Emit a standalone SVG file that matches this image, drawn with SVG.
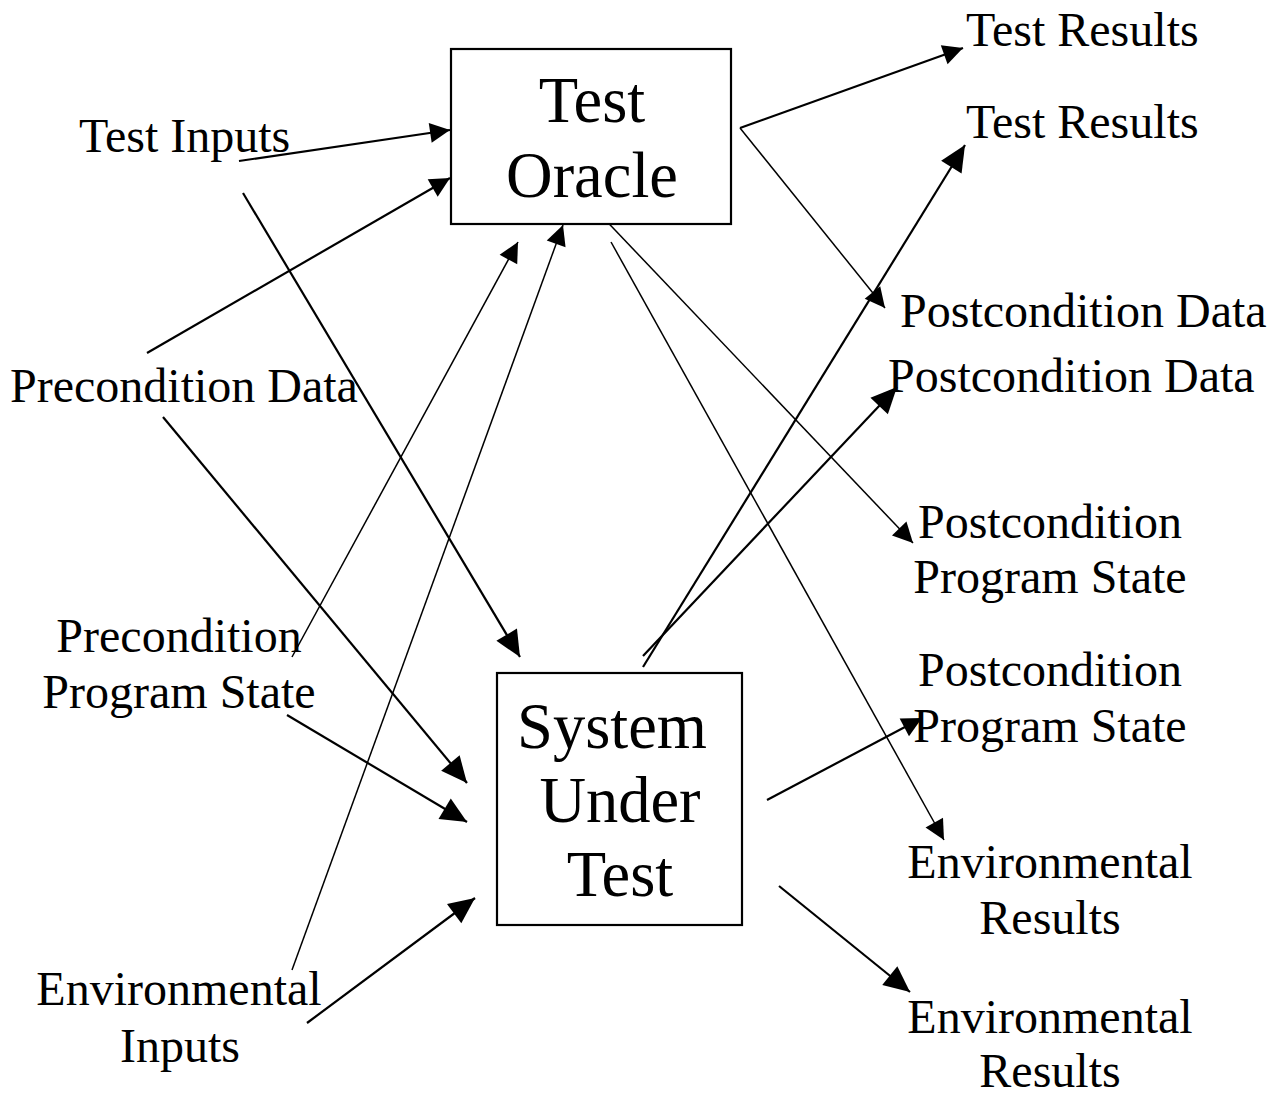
<svg xmlns="http://www.w3.org/2000/svg" width="1282" height="1095" viewBox="0 0 1282 1095">
<style>
.lbl{font-family:"Liberation Serif","Times New Roman",serif;font-size:48px;fill:#000}
.big{font-family:"Liberation Serif","Times New Roman",serif;font-size:64.5px;fill:#000;text-anchor:middle}
.mid{text-anchor:middle}
.box{fill:#fff;stroke:#000;stroke-width:2.2}
.c{stroke:#000;fill:none;stroke-width:2.2}
.t{stroke-width:1.5}
.s{marker-end:url(#ah)}
.l{marker-end:url(#ahl)}
</style>
<defs>
<marker id="ah" markerUnits="userSpaceOnUse" markerWidth="22" markerHeight="20" refX="20" refY="10" orient="auto" overflow="visible">
<path d="M0,0 L20,10 L0,20 z" fill="#000"/>
</marker>
<marker id="ahl" markerUnits="userSpaceOnUse" markerWidth="28" markerHeight="26" refX="26" refY="12" orient="auto" overflow="visible">
<path d="M0,0 L26,12 L0,24 z" fill="#000"/>
</marker>
</defs>
<rect width="1282" height="1095" fill="#fff"/>
<g id="connectors">
<line class="c s" x1="239" y1="161" x2="450" y2="130"/>
<line class="c s" x1="147" y1="353" x2="450" y2="178"/>
<line class="c l" x1="243" y1="193" x2="520" y2="657"/>
<line class="c l" x1="163" y1="417" x2="467" y2="783"/>
<line class="c t s" x1="292" y1="657" x2="518" y2="242"/>
<line class="c t s" x1="292" y1="970" x2="563" y2="225"/>
<line class="c l" x1="287" y1="715" x2="467" y2="822"/>
<line class="c l" x1="307" y1="1023" x2="475" y2="898"/>
<line class="c s" x1="740" y1="128" x2="963" y2="48"/>
<line class="c t s" x1="740" y1="128" x2="885" y2="308"/>
<line class="c t s" x1="595" y1="209" x2="913" y2="543"/>
<line class="c t s" x1="611" y1="242" x2="944" y2="840"/>
<line class="c l" x1="643" y1="667" x2="965" y2="145"/>
<line class="c l" x1="643" y1="656" x2="897" y2="387"/>
<line class="c s" x1="767" y1="800" x2="922" y2="718"/>
<line class="c l" x1="779" y1="886" x2="910" y2="992"/>
</g>
<g id="test-oracle">
<rect class="box" x="451" y="49" width="280" height="175"/>
<text class="big" x="592" y="122">Test</text>
<text class="big" x="592" y="197">Oracle</text>
</g>
<g id="system-under-test">
<rect class="box" x="497" y="673" width="245" height="252"/>
<text class="big" x="612" y="748">System</text>
<text class="big" x="620" y="822">Under</text>
<text class="big" x="620" y="896">Test</text>
</g>
<g id="test-inputs"><text class="lbl" x="79" y="152">Test Inputs</text></g>
<g id="precondition-data"><text class="lbl" x="10" y="402">Precondition Data</text></g>
<g id="precondition-program-state">
<text class="lbl mid" x="179" y="652">Precondition</text>
<text class="lbl mid" x="179" y="708">Program State</text>
</g>
<g id="environmental-inputs">
<text class="lbl mid" x="179" y="1005">Environmental</text>
<text class="lbl mid" x="180" y="1062">Inputs</text>
</g>
<g id="test-results-1"><text class="lbl" x="966" y="46">Test Results</text></g>
<g id="test-results-2"><text class="lbl" x="966" y="138">Test Results</text></g>
<g id="postcondition-data-1"><text class="lbl" x="900" y="327">Postcondition Data</text></g>
<g id="postcondition-data-2"><text class="lbl" x="888" y="392">Postcondition Data</text></g>
<g id="postcondition-program-state-1">
<text class="lbl mid" x="1050" y="538">Postcondition</text>
<text class="lbl mid" x="1050" y="593">Program State</text>
</g>
<g id="postcondition-program-state-2">
<text class="lbl mid" x="1050" y="686">Postcondition</text>
<text class="lbl mid" x="1050" y="742">Program State</text>
</g>
<g id="environmental-results-1">
<text class="lbl mid" x="1050" y="878">Environmental</text>
<text class="lbl mid" x="1050" y="934">Results</text>
</g>
<g id="environmental-results-2">
<text class="lbl mid" x="1050" y="1033">Environmental</text>
<text class="lbl mid" x="1050" y="1087">Results</text>
</g>
</svg>
